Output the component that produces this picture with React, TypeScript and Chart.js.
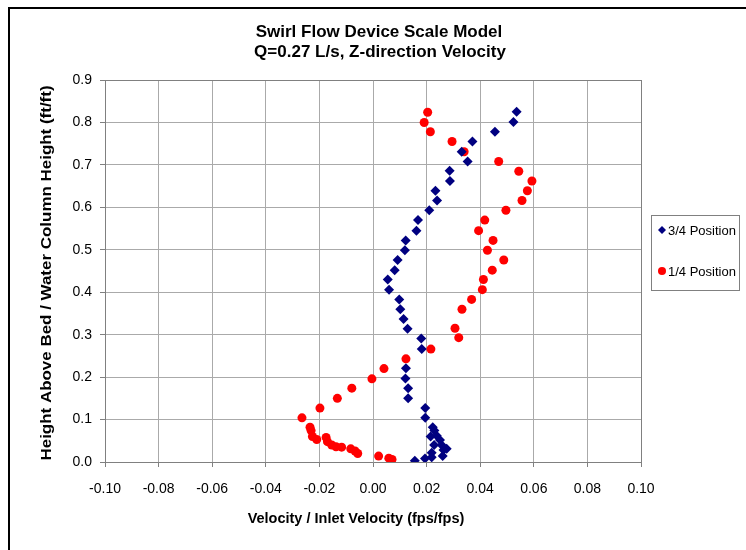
import React, { useEffect, useRef } from 'react';
import { Chart, registerables } from 'chart.js';

Chart.register(...registerables);

const FONT = "'Liberation Sans', Arial, Helvetica, sans-serif";

const titleLines = ['Swirl Flow Device Scale Model', 'Q=0.27 L/s, Z-direction Velocity'];
const xAxisTitle = 'Velocity / Inlet Velocity (fps/fps)';
const yAxisTitle = 'Height Above Bed / Water Column Height (ft/ft)';
const seriesNames = ['3/4 Position', '1/4 Position'];
const seriesColors = ['#000080', '#ff0000'];

const xTickValues = [-0.1, -0.08, -0.06, -0.04, -0.02, 0, 0.02, 0.04, 0.06, 0.08, 0.1];
const yTickValues = [0, 0.1, 0.2, 0.3, 0.4, 0.5, 0.6, 0.7, 0.8, 0.9];

// 3/4 Position
const pos34Velocity = [
  0.0536, 0.0524, 0.0455, 0.0371, 0.0331, 0.0353, 0.0286, 0.0287, 0.0233, 0.0239,
  0.021, 0.0168, 0.0162, 0.0122, 0.0119, 0.0092, 0.0081, 0.0055, 0.006, 0.0098,
  0.0102, 0.0114, 0.0129, 0.018, 0.0182, 0.0123, 0.0121, 0.0131, 0.0131,
  0.0195, 0.0195, 0.0223, 0.0229, 0.0238, 0.0215, 0.025, 0.0228, 0.0256, 0.0275,
  0.0263, 0.0219, 0.026, 0.0219, 0.0194, 0.0156,
];
const pos34Height = [
  0.825, 0.801, 0.778, 0.755, 0.731, 0.708, 0.686, 0.662, 0.639, 0.616,
  0.593, 0.57, 0.545, 0.522, 0.499, 0.476, 0.452, 0.43, 0.406, 0.383,
  0.36, 0.337, 0.314, 0.291, 0.266, 0.221, 0.197, 0.174, 0.15,
  0.127, 0.104, 0.082, 0.074, 0.062, 0.06, 0.052, 0.04, 0.04, 0.031,
  0.028, 0.022, 0.014, 0.011, 0.008, 0.003,
];

// 1/4 Position
const pos14Velocity = [
  0.0204, 0.0191, 0.0214, 0.0295, 0.034, 0.0469, 0.0544, 0.0593, 0.0576, 0.0556,
  0.0496, 0.0417, 0.0394, 0.0448, 0.0427, 0.0488, 0.0445, 0.0412, 0.0408, 0.0368,
  0.0332, 0.0306, 0.032, 0.0216, 0.0123, 0.0041, -0.0004, -0.0079, -0.0133, -0.0198,
  -0.0265, -0.0235, -0.0231, -0.0226, -0.0175, -0.021, -0.017, -0.0154, -0.0138, -0.0117,
  -0.0083, -0.0067, -0.0057, 0.0021, 0.0059, 0.0071,
];
const pos14Height = [
  0.824, 0.8, 0.778, 0.755, 0.731, 0.708, 0.685, 0.662, 0.639, 0.616,
  0.593, 0.57, 0.545, 0.522, 0.499, 0.476, 0.452, 0.43, 0.406, 0.383,
  0.36, 0.315, 0.293, 0.266, 0.243, 0.22, 0.196, 0.174, 0.15, 0.127,
  0.104, 0.082, 0.074, 0.06, 0.058, 0.053, 0.048, 0.04, 0.036, 0.035,
  0.031, 0.026, 0.02, 0.014, 0.009, 0.006,
];

const toPoints = (xs: number[], ys: number[]) => xs.map((x, i) => ({ x, y: ys[i] }));

const drawDiamond = (ctx: CanvasRenderingContext2D, x: number, y: number, r: number) => {
  ctx.beginPath();
  ctx.moveTo(x, y - r);
  ctx.lineTo(x + r, y);
  ctx.lineTo(x, y + r);
  ctx.lineTo(x - r, y);
  ctx.closePath();
  ctx.fill();
};

const decorPlugin = {
  id: 'decor',
  beforeDraw(chart: any) {
    const ctx = chart.ctx as CanvasRenderingContext2D;
    ctx.save();
    ctx.fillStyle = '#ffffff';
    ctx.fillRect(0, 0, chart.width, chart.height);
    ctx.restore();
  },
  afterDraw(chart: any) {
    const ctx = chart.ctx as CanvasRenderingContext2D;
    ctx.save();
    // outer frame
    ctx.strokeStyle = '#000000';
    ctx.lineWidth = 2;
    ctx.beginPath();
    ctx.moveTo(9, chart.height + 5);
    ctx.lineTo(9, 8);
    ctx.lineTo(chart.width + 5, 8);
    ctx.stroke();

    // chart title
    ctx.fillStyle = '#000000';
    ctx.textAlign = 'center';
    ctx.textBaseline = 'middle';
    ctx.font = `bold 17px ${FONT}`;
    ctx.fillText(titleLines[0], 379, 32);
    ctx.fillText(titleLines[1], 380, 52);

    // axis titles
    ctx.font = `bold 14.5px ${FONT}`;
    ctx.fillText(xAxisTitle, 356, 519);
    ctx.save();
    ctx.translate(47, 273);
    ctx.rotate(-Math.PI / 2);
    ctx.scale(1.13, 1);
    ctx.font = `bold 15px ${FONT}`;
    ctx.fillText(yAxisTitle, 0, 0);
    ctx.restore();

    // legend
    ctx.strokeStyle = '#808080';
    ctx.lineWidth = 1;
    ctx.strokeRect(651.5, 215.5, 88, 75);
    ctx.font = `13px ${FONT}`;
    ctx.textAlign = 'left';
    const rows = [230, 271];
    chart.data.datasets.forEach((ds: any, i: number) => {
      const y = rows[i];
      ctx.fillStyle = seriesColors[i];
      if (i === 0) {
        drawDiamond(ctx, 662, y, 4);
      } else {
        ctx.beginPath();
        ctx.arc(662, y, 4, 0, Math.PI * 2);
        ctx.fill();
      }
      ctx.fillStyle = '#000000';
      ctx.fillText(ds.label, 668, y + 1);
    });
    ctx.restore();
  },
};

export default function App() {
  const canvasRef = useRef<HTMLCanvasElement | null>(null);

  useEffect(() => {
    if (!canvasRef.current) return;
    const gridColor = (edge: number) => (c: any) =>
      c.tick && c.tick.value === edge ? '#808080' : '#aaaaaa';
    const chart = new Chart(canvasRef.current, {
      type: 'scatter',
      data: {
        datasets: [
          {
            label: seriesNames[0],
            data: toPoints(pos34Velocity, pos34Height),
            pointStyle: 'rectRot',
            pointRadius: 5,
            borderWidth: 0,
            backgroundColor: seriesColors[0],
            borderColor: seriesColors[0],
            showLine: false,
          },
          {
            label: seriesNames[1],
            data: toPoints(pos14Velocity, pos14Height),
            pointStyle: 'circle',
            pointRadius: 4.5,
            borderWidth: 0,
            backgroundColor: seriesColors[1],
            borderColor: seriesColors[1],
            showLine: false,
          },
        ],
      },
      options: {
        responsive: false,
        animation: false,
        devicePixelRatio: 1,
        layout: { padding: { left: 8, top: 80, right: 105, bottom: 8 } },
        plugins: {
          legend: { display: false },
          title: { display: false },
          tooltip: { enabled: false },
        },
        scales: {
          x: {
            type: 'linear',
            min: -0.1,
            max: 0.1,
            afterBuildTicks: (s: any) => {
              s.ticks = xTickValues.map((value) => ({ value }));
            },
            afterFit: (s: any) => {
              s.height = 80;
            },
            ticks: {
              callback: (v: any) => Number(v).toFixed(2),
              font: { family: FONT, size: 14 },
              color: '#000000',
              padding: 14,
              maxRotation: 0,
              autoSkip: false,
            },
            grid: {
              color: gridColor(0.1),
              lineWidth: 1,
              tickLength: 5,
              tickColor: '#808080',
            },
            border: { color: '#808080', width: 1 },
          },
          y: {
            type: 'linear',
            min: 0,
            max: 0.9,
            afterBuildTicks: (s: any) => {
              s.ticks = yTickValues.map((value) => ({ value }));
            },
            afterFit: (s: any) => {
              s.width = 97;
            },
            ticks: {
              callback: (v: any) => Number(v).toFixed(1),
              font: { family: FONT, size: 14 },
              color: '#000000',
              padding: 8,
              autoSkip: false,
            },
            grid: {
              color: gridColor(0.9),
              lineWidth: 1,
              tickLength: 5,
              tickColor: '#808080',
            },
            border: { color: '#808080', width: 1 },
          },
        },
      },
      plugins: [decorPlugin],
    });
    return () => chart.destroy();
  }, []);

  return (
    <div style={{ position: 'absolute', left: 0, top: 0, width: 746, height: 550, background: '#fff' }}>
      <canvas ref={canvasRef} width={746} height={550} style={{ display: 'block' }} />
    </div>
  );
}
